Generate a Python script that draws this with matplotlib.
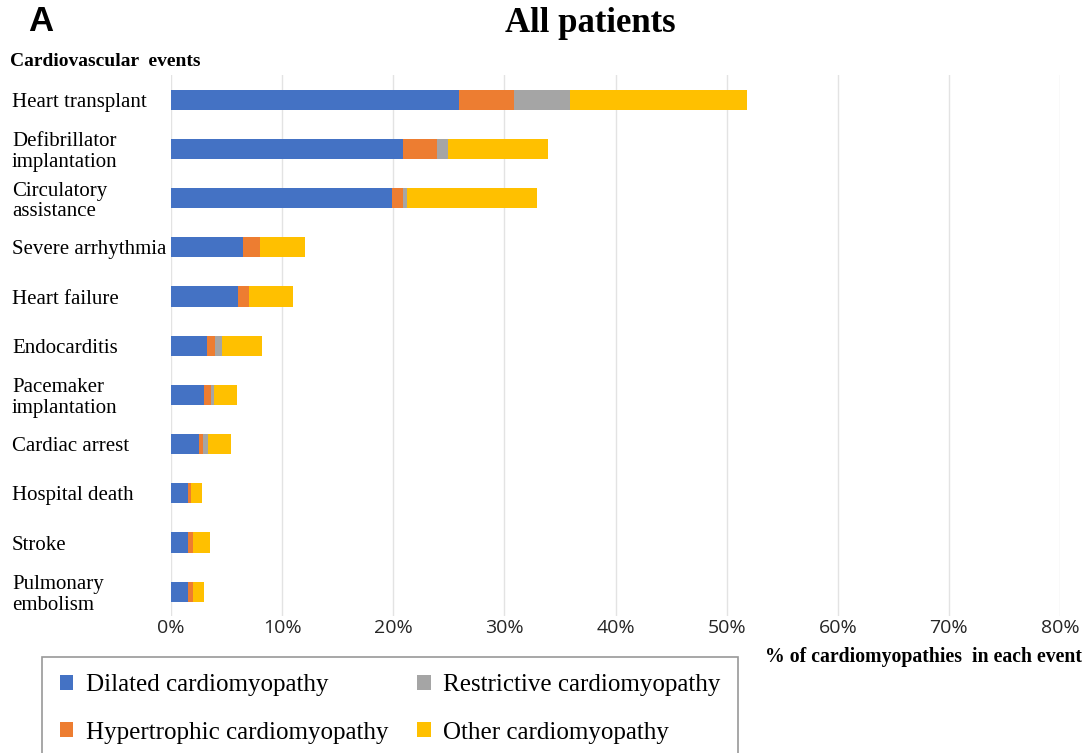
import matplotlib
matplotlib.use("Agg")
import matplotlib.pyplot as plt
import numpy as np

categories = ["Heart transplant", "Defibrillator\nimplantation", "Circulatory\nassistance",
              "Severe arrhythmia", "Heart failure", "Endocarditis", "Pacemaker\nimplantation",
              "Cardiac arrest", "Hospital death", "Stroke", "Pulmonary\nembolism"]
dilated =      [25.9, 20.9, 19.9, 6.5, 6.0, 3.2, 3.0, 2.5, 1.5, 1.5, 1.5]
hypertrophic = [5.0, 3.0, 1.0, 1.5, 1.0, 0.8, 0.6, 0.4, 0.3, 0.5, 0.5]
restrictive =  [5.0, 1.0, 0.3, 0.0, 0.0, 0.6, 0.3, 0.4, 0.0, 0.0, 0.0]
other =        [15.9, 9.0, 11.7, 4.1, 4.0, 3.6, 2.0, 2.1, 1.0, 1.5, 1.0]
series_names = ["Dilated cardiomyopathy", "Hypertrophic cardiomyopathy",
                "Restrictive cardiomyopathy", "Other cardiomyopathy"]
colors = ["#4472C4", "#ED7D31", "#A5A5A5", "#FFC000"]
xticks = [0, 10, 20, 30, 40, 50, 60, 70, 80]

fig = plt.figure(figsize=(10.88, 7.53), dpi=100)
ax = fig.add_axes([171/1088, 0.1814, (1060-171)/1088, 0.9003-0.1814])

y = np.arange(len(categories))
left = np.zeros(len(categories))
handles = {}
for name, vals, c in zip(series_names, [dilated, hypertrophic, restrictive, other], colors):
    b = ax.barh(y, vals, left=left, height=0.41, color=c, zorder=3)
    handles[name] = b
    left = left + np.array(vals)

ax.set_xlim(0, 80)
ax.set_ylim(len(categories) - 0.5, -0.5)
ax.set_xticks(xticks)
ax.set_xticklabels([f"{t}%" for t in xticks], fontsize=14, color="#262626", family="Open Sans")
ax.set_yticks(y)
ax.set_yticklabels(categories, family="Liberation Serif", fontsize=15, ha="left",
                   linespacing=1.12)
ax.tick_params(axis="y", length=0, pad=(171-12)*0.72)
ax.tick_params(axis="x", length=0, pad=2)
ax.grid(axis="x", color="#E3E3E3", linewidth=1, zorder=0)
for s in ax.spines.values():
    s.set_visible(False)

fig.text(28/1088, 1-21.5/753, "A", fontsize=25, fontweight="bold", family="Liberation Sans",
         va="center", ha="left")
fig.text(590/1088, 1-23/753, "All patients", fontsize=25, fontweight="bold",
         family="Liberation Serif", va="center", ha="center")
fig.text(10/1088, 1-62/753, "Cardiovascular  events", fontsize=14, fontweight="bold",
         family="Liberation Serif", va="center", ha="left")
fig.text(1082/1088, 1-657/753, "% of cardiomyopathies  in each event", fontsize=14.2,
         fontweight="bold", family="Liberation Serif", va="center", ha="right")

order = ["Dilated cardiomyopathy", "Hypertrophic cardiomyopathy",
         "Restrictive cardiomyopathy", "Other cardiomyopathy"]
leg = fig.legend([handles[n] for n in order], order, loc="upper left",
                 bbox_to_anchor=(42/1088, 1-657/753), ncol=2, frameon=True, fancybox=False,
                 edgecolor="#7F7F7F", prop={"family": "Liberation Serif", "size": 18},
                 handlelength=0.55, handleheight=0.55, handletextpad=0.5,
                 columnspacing=1.15, labelspacing=1.0, borderpad=0.7, borderaxespad=0)
leg.get_frame().set_linewidth(1.2)

fig.savefig("out.png", dpi=100)
